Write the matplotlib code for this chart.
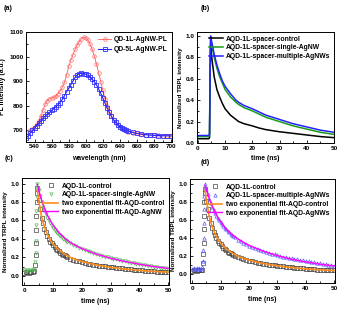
import matplotlib
matplotlib.use("Agg")
import matplotlib.pyplot as plt
from matplotlib.ticker import MultipleLocator

plt.rcParams['font.family'] = ['Liberation Sans', 'DejaVu Sans']
plt.rcParams['font.weight'] = 'bold'
plt.rcParams['axes.labelweight'] = 'bold'

# ---------------- data (a) ----------------
wl_red = [532.5, 535, 537.5, 540, 542.5, 545, 547.5, 550, 552.5, 555, 557.5, 560, 562.5, 565,
          567.5, 570, 572.5, 575, 577.5, 580, 582.5, 585, 587.5, 590, 592.5, 595, 597.5, 600,
          602.5, 605, 607.5, 610, 612.5, 615, 617.5, 620, 622.5, 625, 627.5, 630, 632.5, 635,
          637.5, 640, 642.5, 645, 647.5, 650, 655, 660, 665, 670, 675, 680, 685, 690, 695, 700]
pl_red = [692, 700, 706, 714, 724, 738, 758, 782, 805, 820, 828, 831, 833, 838,
          848, 860, 875, 895, 925, 960, 985, 1008, 1030, 1048, 1062, 1073, 1080, 1077,
          1068, 1052, 1030, 1003, 970, 935, 898, 862, 828, 800, 776, 757, 741, 729,
          719, 711, 705, 700, 696, 693, 689, 686, 683, 681, 680, 679, 678, 677, 677, 676]
wl_blue = [530, 532.5, 535, 537.5, 540, 542.5, 545, 547.5, 550, 552.5, 555, 557.5, 560, 562.5,
           565, 567.5, 570, 572.5, 575, 577.5, 580, 582.5, 585, 587.5, 590, 592.5, 595, 597.5,
           600, 602.5, 605, 607.5, 610, 612.5, 615, 617.5, 620, 622.5, 625, 627.5, 630, 632.5,
           635, 637.5, 640, 642.5, 645, 647.5, 650, 655, 660, 665, 670, 675, 680, 685, 690, 695, 700]
pl_blue = [668, 675, 688, 698, 708, 718, 728, 738, 748, 757, 765, 772, 780, 787,
           795, 803, 812, 825, 840, 856, 870, 885, 900, 915, 926, 930, 932, 931,
           928, 924, 917, 908, 898, 885, 868, 850, 830, 810, 790, 772, 756, 742,
           731, 721, 713, 707, 702, 698, 695, 690, 686, 683, 681, 679, 678, 677, 676, 676, 675]

# ---------------- data (b) ----------------
t_b = [0, 1, 2, 3, 4, 4.3, 4.5, 4.7, 5, 6, 7, 8, 9, 10, 12, 14, 15, 17, 20, 22.5, 25,
       27.5, 30, 35, 40, 45, 50]
b_control = [0.04, 0.04, 0.04, 0.04, 0.04, 0.05, 0.6, 0.92, 0.82, 0.62, 0.5, 0.43, 0.37, 0.32,
             0.26, 0.22, 0.2, 0.18, 0.16, 0.14, 0.125, 0.115, 0.105, 0.09, 0.075, 0.06, 0.05]
b_single = [0.06, 0.06, 0.06, 0.06, 0.06, 0.07, 0.65, 0.97, 0.93, 0.8, 0.7, 0.62, 0.56, 0.5,
            0.43, 0.38, 0.36, 0.33, 0.3, 0.27, 0.24, 0.22, 0.2, 0.16, 0.13, 0.1, 0.08]
b_multi = [0.07, 0.07, 0.07, 0.07, 0.07, 0.08, 0.68, 1.0, 0.96, 0.83, 0.73, 0.65, 0.58, 0.53,
           0.46, 0.4, 0.38, 0.35, 0.32, 0.29, 0.26, 0.24, 0.22, 0.18, 0.15, 0.12, 0.1]

# ---------------- data (c), (d) scatter ----------------
t_s = [0, 0.5, 1, 1.5, 2, 2.5, 3, 3.5, 3.8, 3.9, 4.0, 4.1, 4.2, 4.3, 4.4,
       4.5, 5, 5.5, 6, 6.5, 7, 7.5, 8, 8.5, 9, 9.5, 10, 10.5, 11, 11.5, 12, 12.5, 13, 13.5, 14,
       14.5, 15, 16, 17, 18, 19, 20, 21, 22, 23, 24, 25, 26, 27, 28, 29, 30, 31, 32, 33, 34, 35,
       36, 37, 38, 39, 40, 41, 42, 43, 44, 45, 46, 47, 48, 49, 50]
s_control = [0.03, 0.04, 0.04, 0.03, 0.04, 0.04, 0.04, 0.05, 0.12, 0.22, 0.35, 0.5, 0.65, 0.8, 0.9,
             0.95, 0.82, 0.72, 0.63, 0.57, 0.51, 0.47, 0.43, 0.4, 0.37, 0.35, 0.33, 0.31, 0.29,
             0.28, 0.265, 0.25, 0.24, 0.23, 0.22, 0.21, 0.2, 0.185, 0.175, 0.165, 0.155, 0.15,
             0.14, 0.133, 0.127, 0.12, 0.115, 0.11, 0.106, 0.102, 0.098, 0.095, 0.09, 0.086,
             0.082, 0.079, 0.076, 0.072, 0.069, 0.066, 0.063, 0.06, 0.058, 0.055, 0.053, 0.05,
             0.048, 0.046, 0.044, 0.042, 0.041, 0.04]
s_single = [0.06, 0.05, 0.06, 0.05, 0.06, 0.05, 0.06, 0.07, 0.15, 0.25, 0.38, 0.55, 0.7, 0.85, 0.95,
            1.0, 0.93, 0.86, 0.8, 0.75, 0.71, 0.67, 0.63, 0.6, 0.57, 0.54, 0.52, 0.5, 0.48,
            0.46, 0.445, 0.43, 0.415, 0.4, 0.39, 0.38, 0.37, 0.35, 0.335, 0.32, 0.3, 0.285,
            0.275, 0.265, 0.255, 0.245, 0.235, 0.225, 0.215, 0.207, 0.2, 0.192, 0.185, 0.177,
            0.17, 0.163, 0.156, 0.15, 0.143, 0.137, 0.131, 0.125, 0.12, 0.114, 0.109, 0.104,
            0.099, 0.094, 0.089, 0.084, 0.079, 0.075]
s_multi = [0.06, 0.07, 0.06, 0.07, 0.06, 0.07, 0.06, 0.08, 0.15, 0.27, 0.4, 0.57, 0.72, 0.87, 0.96,
           1.0, 0.95, 0.89, 0.84, 0.79, 0.75, 0.71, 0.68, 0.65, 0.62, 0.6, 0.58, 0.555, 0.535,
           0.515, 0.5, 0.48, 0.465, 0.45, 0.435, 0.42, 0.41, 0.385, 0.365, 0.345, 0.33, 0.315,
           0.3, 0.288, 0.276, 0.265, 0.255, 0.245, 0.235, 0.226, 0.218, 0.21, 0.202, 0.195,
           0.188, 0.181, 0.175, 0.169, 0.163, 0.157, 0.151, 0.145, 0.14, 0.135, 0.13, 0.125,
           0.12, 0.115, 0.11, 0.105, 0.1, 0.095]

# ---------------- fit curves ----------------
t_fit = [4.5, 5, 6, 7, 8, 9, 10, 12, 14, 16, 18, 20, 25, 30, 35, 40, 45, 50]
fit_control = [0.93, 0.82, 0.64, 0.53, 0.45, 0.39, 0.345, 0.28, 0.235, 0.2, 0.175, 0.155,
               0.118, 0.092, 0.073, 0.058, 0.047, 0.04]
fit_single = [0.99, 0.93, 0.82, 0.73, 0.66, 0.6, 0.55, 0.47, 0.41, 0.36, 0.325, 0.295,
              0.235, 0.19, 0.155, 0.125, 0.1, 0.08]
fit_multi = [0.99, 0.94, 0.84, 0.76, 0.69, 0.63, 0.58, 0.5, 0.44, 0.395, 0.355, 0.32,
             0.255, 0.205, 0.165, 0.135, 0.11, 0.09]

W, H = 339, 310
fig = plt.figure(figsize=(W / 100, H / 100), dpi=100)


def rect(l, r, t, b):
    return [l / W, 1 - b / H, (r - l) / W, (b - t) / H]


FS = 4.6


def style(ax):
    for s in ax.spines.values():
        s.set_linewidth(0.7)
    ax.tick_params(which='both', direction='in', labelsize=FS, width=0.6, pad=2)
    ax.tick_params(which='major', length=2.0)
    ax.tick_params(which='minor', length=1.2)
    for lab in ax.get_xticklabels() + ax.get_yticklabels():
        lab.set_fontweight('bold')


# ---- (a) ----
axa = fig.add_axes(rect(26, 172, 31.5, 141.7))
axa.plot(wl_red, pl_red, color='#ff5a5a', lw=0.6, marker='o', ms=2.6, mfc='none',
         mec='#ff6b6b', mew=0.5, label='QD-1L-AgNW-PL')
axa.plot(wl_blue, pl_blue, color='#2020ff', lw=0.8, marker='s', ms=2.4, mfc='none',
         mec='#3030ff', mew=0.6, label='QD-5L-AgNW-PL')
axa.set_xlim(530, 701)
axa.set_ylim(652, 1103)
axa.xaxis.set_major_locator(MultipleLocator(20))
axa.xaxis.set_minor_locator(MultipleLocator(10))
axa.yaxis.set_major_locator(MultipleLocator(100))
axa.yaxis.set_minor_locator(MultipleLocator(50))
style(axa)
axa.set_xlabel('wavelength (nm)', fontsize=FS + 0.3, labelpad=4)
axa.set_ylabel('PL intensity (a.u.)', fontsize=FS + 0.3, labelpad=2)
axa.legend(loc='upper right', fontsize=FS + 0.3, frameon=False, handlelength=1.8,
           handletextpad=0.4, borderaxespad=0.3, labelspacing=0.4,
           prop={'weight': 'bold', 'size': FS + 0.3})
fig.text(8 / W, 1 - 9 / H, '(a)', fontsize=FS + 0.5, fontweight='bold', ha='center', va='center')

# ---- (b) ----
axb = fig.add_axes(rect(197, 334, 31.7, 143))
axb.plot(t_b, b_control, color='black', lw=1.1, label='AQD-1L-spacer-control')
axb.plot(t_b, b_single, color='#1a9a1a', lw=1.1, label='AQD-1L-spacer-single-AgNW')
axb.plot(t_b, b_multi, color='#2222ff', lw=1.1, label='AQD-1L-spacer-multiple-AgNWs')
axb.set_xlim(-0.3, 50)
axb.set_ylim(0, 1.04)
axb.xaxis.set_major_locator(MultipleLocator(10))
axb.xaxis.set_minor_locator(MultipleLocator(5))
axb.yaxis.set_major_locator(MultipleLocator(0.2))
axb.yaxis.set_minor_locator(MultipleLocator(0.1))
axb.yaxis.set_major_formatter(matplotlib.ticker.FormatStrFormatter('%.1f'))
style(axb)
axb.set_xlabel('time (ns)', fontsize=FS + 0.3, labelpad=3)
axb.set_ylabel('Normalized TRPL intensity', fontsize=FS, labelpad=2)
axb.legend(loc='upper right', frameon=False, handlelength=2.0, handletextpad=0.4,
           borderaxespad=0.2, labelspacing=0.25, prop={'weight': 'bold', 'size': FS + 0.3})
fig.text(205 / W, 1 - 9 / H, '(b)', fontsize=FS + 0.5, fontweight='bold', ha='center', va='center')


def decay_panel(ax, s2, lab2, col2, mk2, fit2, fitlab2):
    ax.plot(t_s, s_control, ls='none', marker='s', ms=2.2, mfc='none', mec='#444444', mew=0.5,
            label='AQD-1L-control')
    ax.plot(t_s, s2, ls='none', marker=mk2, ms=2.4, mfc='none', mec=col2, mew=0.5, label=lab2)
    ax.plot(t_fit, fit_control, color='#ff8c1a', lw=1.2, label='two exponential fit-AQD-control')
    ax.plot(t_fit, fit2, color='#ff00ff', lw=1.0, label=fitlab2)
    ax.set_xlim(-0.8, 50.3)
    ax.set_ylim(-0.1, 1.06)
    ax.xaxis.set_major_locator(MultipleLocator(10))
    ax.xaxis.set_minor_locator(MultipleLocator(5))
    ax.yaxis.set_major_locator(MultipleLocator(0.2))
    ax.yaxis.set_minor_locator(MultipleLocator(0.1))
    ax.yaxis.set_major_formatter(matplotlib.ticker.FormatStrFormatter('%.1f'))
    style(ax)
    ax.set_xlabel('time (ns)', fontsize=FS + 0.3, labelpad=4)
    ax.set_ylabel('Normalized TRPL intensity', fontsize=FS, labelpad=2)
    ax.legend(loc='upper right', frameon=False, handlelength=2.2, handletextpad=0.5,
              borderaxespad=0.3, labelspacing=0.25, markerscale=1.0,
              prop={'weight': 'bold', 'size': FS + 0.3})


# ---- (c) ----
axc = fig.add_axes(rect(22, 169, 178, 285))
decay_panel(axc, s_single, 'AQD-1L-spacer-single-AgNW', '#58b858', 'v', fit_single,
            'two exponential fit-AQD-AgNW')
fig.text(9 / W, 1 - 158 / H, '(c)', fontsize=FS + 0.5, fontweight='bold', ha='center', va='center')

# ---- (d) ----
axd = fig.add_axes(rect(190, 335, 179, 283))
decay_panel(axd, s_multi, 'AQD-1L-spacer-multiple-AgNWs', '#5a5aff', '^', fit_multi,
            'two exponential fit-AQD-AgNWs')
fig.text(205 / W, 1 - 163 / H, '(d)', fontsize=FS + 0.5, fontweight='bold', ha='center', va='center')

fig.savefig('out.png', dpi=100)
